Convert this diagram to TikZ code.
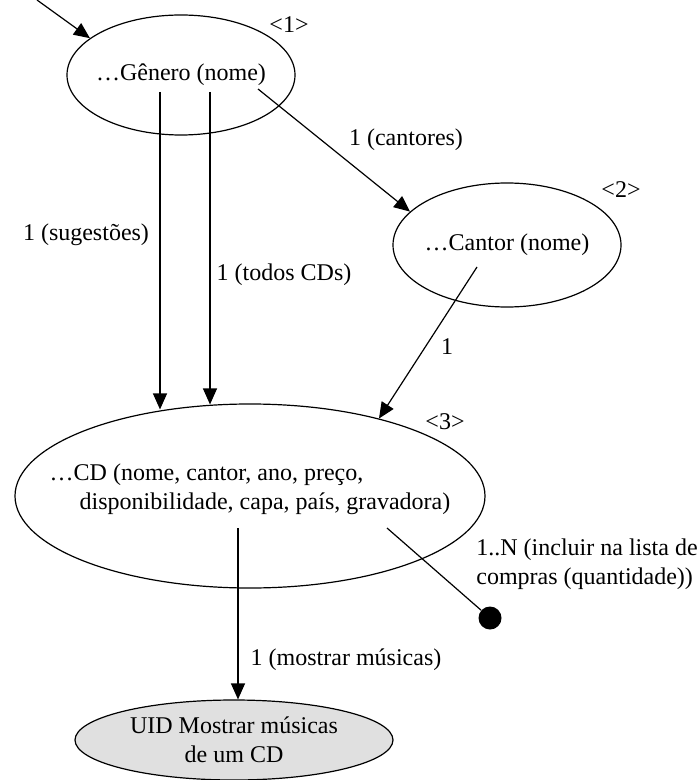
\documentclass[tikz,border=0pt]{standalone}
\usepackage{fontspec}
\setmainfont{Liberation Serif}
\usetikzlibrary{arrows.meta,shapes.geometric}

\begin{document}
\begin{tikzpicture}[x=0.5pt,y=-0.5pt,
  every node/.style={font=\fontsize{12pt}{14.5pt}\selectfont},
  obj/.style={ellipse,draw,line width=0.6pt,inner xsep=-8pt,inner ysep=-3pt},
  uid/.style={obj,fill=black!12,align=center},
  tag/.style={inner sep=1pt},
  line/.style={draw,line width=0.6pt},
  arr/.style={line,-{Triangle[length=8pt,width=7pt]}}
]
\useasboundingbox (0,0) rectangle (697,780);

\node[obj,minimum width=114pt,minimum height=60pt] (gen) at (181,75) {\ldots Gênero (nome)};
\node[obj,minimum width=114pt,minimum height=62pt] (cantor) at (507,245) {\ldots Cantor (nome)};
\node[obj,minimum width=235pt,minimum height=92pt,inner xsep=-20pt,align=left,text depth=9pt] (cd) at (250,496)
  {\ldots CD (nome, cantor, ano, preço,\\\hspace*{15pt}disponibilidade, capa, país, gravadora)};
\node[uid,minimum width=159pt,minimum height=40pt] (uid) at (234,740) {UID Mostrar músicas\\de um CD};

\node[tag] (t1) at (289,25) {<1>};
\node[tag] (t2) at (621,190) {<2>};
\node[tag] (t3) at (445,422) {<3>};

\coordinate (start) at (37,0);
\coordinate (g1) at (160,92);
\coordinate (g2) at (210,92);
\coordinate (g3) at (258,89);
\coordinate (c1) at (477,267);
\coordinate (d1) at (238,528);
\coordinate (d2) at (387,528);
\node[circle,fill,inner sep=0pt,minimum size=11.5pt] (dot) at (490,618) {};

\draw[arr] (start) -- (gen.158);
\draw[arr] (g1) -- (g1 |- cd.134);
\draw[arr] (g2) -- (g2 |- cd.111);
\draw[arr] (g3) -- (cantor.161);
\draw[arr] (c1) -- (cd.31);
\draw[line] (d2) -- (dot);
\draw[arr] (d1) -- (d1 |- uid.north);

\node[tag] (l1) at (86,235) {1 (sugestões)};
\node[tag] (l2) at (284,275) {1 (todos CDs)};
\node[tag] (l3) at (406,140) {1 (cantores)};
\node[tag] (l4) at (447,347) {1};
\node[tag,align=left] (l5) at (587,564) {1..N (incluir na lista de\\compras (quantidade))};
\node[tag] (l6) at (346,660) {1 (mostrar músicas)};
\end{tikzpicture}
\end{document}
